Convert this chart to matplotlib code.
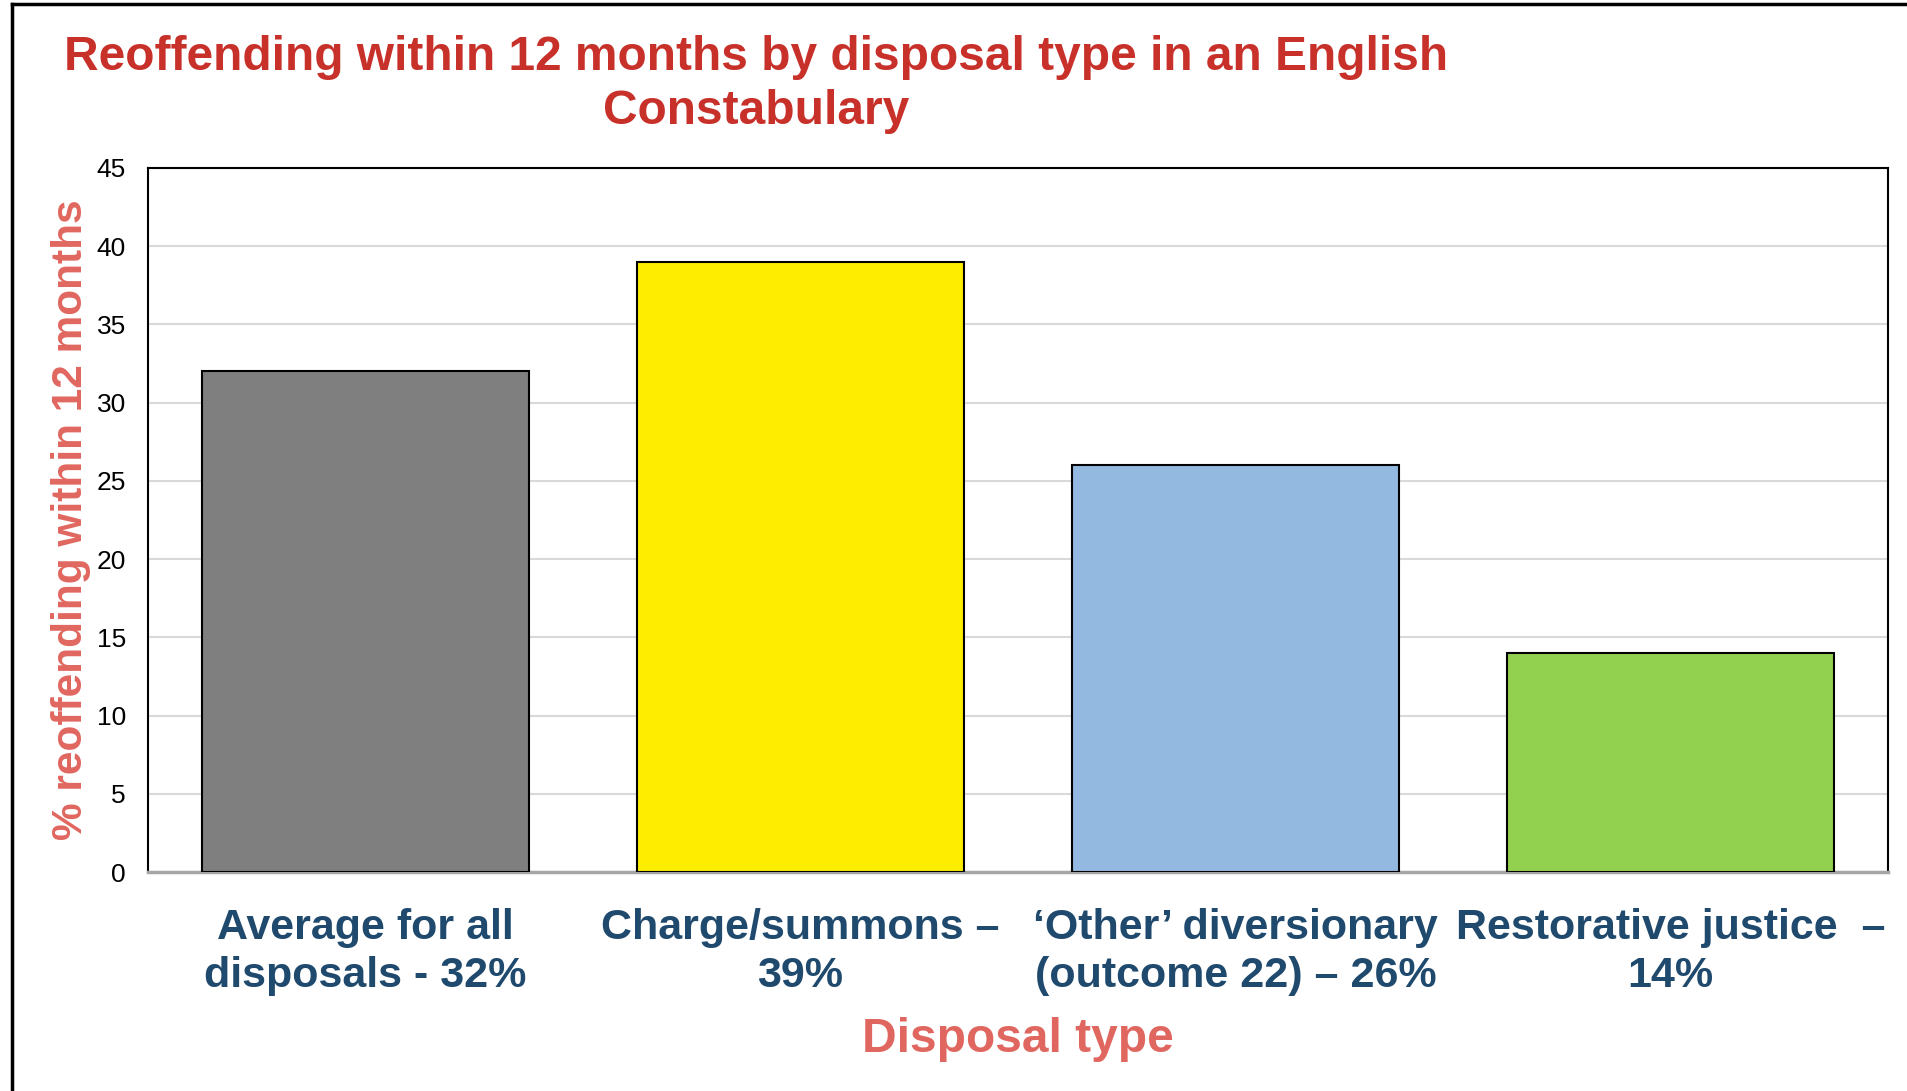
import matplotlib
matplotlib.use("Agg")
import matplotlib.pyplot as plt
from matplotlib.lines import Line2D

plt.rcParams['font.family'] = ['Liberation Sans', 'DejaVu Sans']

# data
categories = ["Average for all\ndisposals - 32%",
              "Charge/summons \u2013\n39%",
              "\u2018Other\u2019 diversionary\n(outcome 22) \u2013 26%",
              "Restorative justice  \u2013\n14%"]
values = [32, 39, 26, 14]
bar_colors = ["#7F7F7F", "#FFED00", "#93B9E0", "#92D050"]
yticks = list(range(0, 50, 5))

W, H = 1908, 1091
fig = plt.figure(figsize=(W / 100, H / 100), dpi=100)
ax = fig.add_axes([148 / W, 1 - 872 / H, (1888 - 148) / W, (872 - 168) / H])

x = list(range(len(values)))
ax.bar(x, values, width=0.75, color=bar_colors, edgecolor="black", linewidth=1.5, zorder=3)
ax.set_xlim(-0.5, len(values) - 0.5)
ax.set_ylim(0, 45)
ax.set_yticks(yticks)
ax.yaxis.grid(True, color="#D9D9D9", linewidth=1.5, zorder=0)
ax.tick_params(axis="y", length=0, pad=16, labelsize=19)
ax.set_xticks(x)
ax.set_xticklabels(categories, fontsize=31, fontweight="bold", color="#1F4A6E", linespacing=1.25)
ax.tick_params(axis="x", length=0, pad=26)
for s in ["left", "top", "right"]:
    ax.spines[s].set_linewidth(1.5)
    ax.spines[s].set_color("black")
ax.spines["bottom"].set_color("#A6A6A6")
ax.spines["bottom"].set_linewidth(2.5)

ax.set_xlabel("Disposal type", fontsize=34.5, fontweight="bold", color="#E0675F", labelpad=15)
ax.set_ylabel("% reoffending within 12 months", fontsize=30.5, fontweight="bold", color="#E0675F", labelpad=4)

fig.text(756 / W, 1 - 57 / H, "Reoffending within 12 months by disposal type in an English",
         ha="center", va="center", fontsize=34.5, fontweight="bold", color="#C8302A")
fig.text(756 / W, 1 - 112 / H, "Constabulary",
         ha="center", va="center", fontsize=34.5, fontweight="bold", color="#C8302A")

# outer frame (left and top edges)
fig.add_artist(Line2D([12 / W, 12 / W], [0, 1 - 4 / H], color="black", linewidth=2.5, transform=fig.transFigure))
fig.add_artist(Line2D([12 / W, 1], [1 - 4 / H, 1 - 4 / H], color="black", linewidth=2.5, transform=fig.transFigure))

fig.savefig("out.png", dpi=100)
